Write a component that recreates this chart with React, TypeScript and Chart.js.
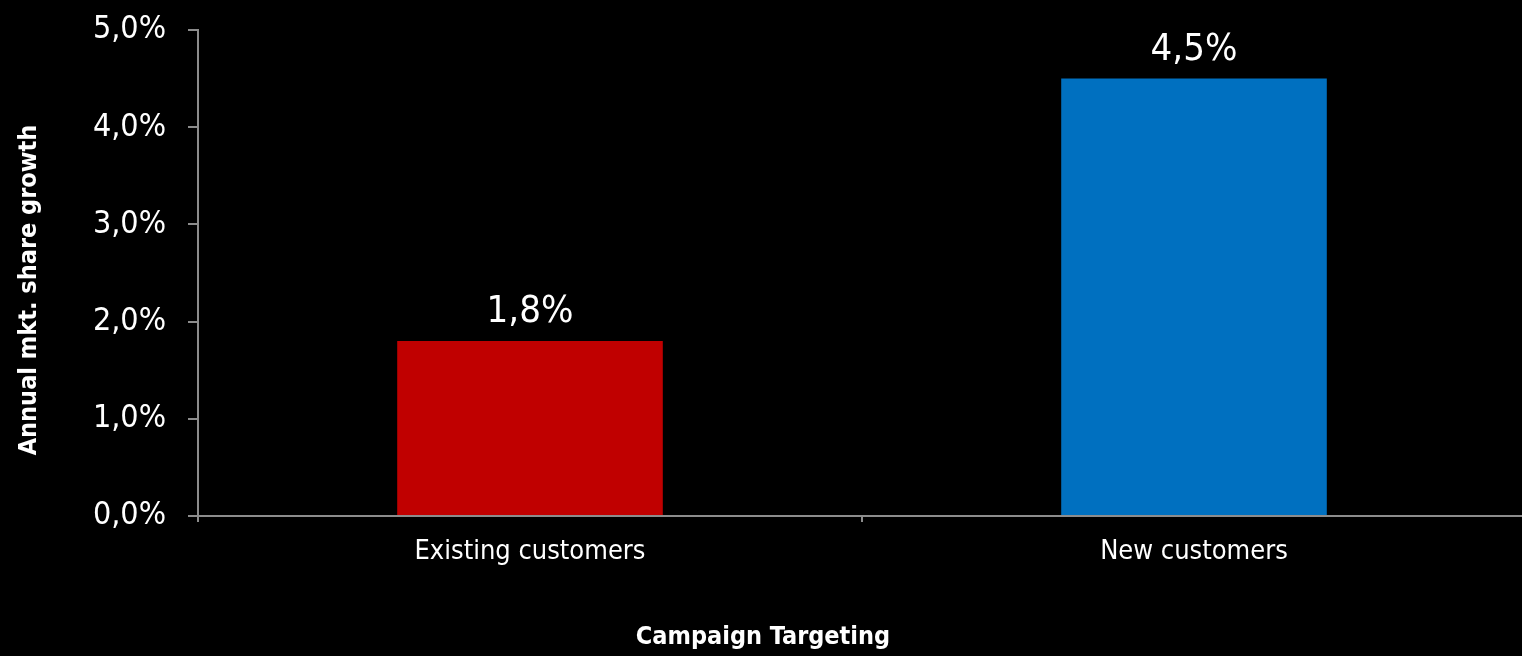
import React, { useEffect, useRef } from "react";
import { Chart, registerables } from "chart.js";

Chart.register(...registerables);

const categories = ["Existing customers", "New customers"];
const growthValues = [1.8, 4.5];
const barColors = ["#C00000", "#0070C0"];
const yTickLabels = ["0,0%", "1,0%", "2,0%", "3,0%", "4,0%", "5,0%"];
const xTitle = "Campaign Targeting";
const yTitle = "Annual mkt. share growth";

const FONT = "'Liberation Sans Narrow', 'DejaVu Sans Condensed', 'Arial Narrow', sans-serif";
const AXIS_COLOR = "#8c8c8c";

const fmt = (v: number) => v.toFixed(1).replace(".", ",") + "%";

const labelsPlugin = {
  id: "customLabels",
  afterDatasetsDraw(chart: any) {
    const ctx = chart.ctx;
    const meta = chart.getDatasetMeta(0);
    ctx.save();
    ctx.fillStyle = "#ffffff";
    ctx.font = `38px ${FONT}`;
    ctx.textAlign = "center";
    ctx.textBaseline = "alphabetic";
    meta.data.forEach((bar: any, i: number) => {
      ctx.fillText(fmt(growthValues[i]), bar.x, bar.y - 19);
    });
    ctx.restore();
  },
  afterDraw(chart: any) {
    const ctx = chart.ctx;
    ctx.save();
    ctx.fillStyle = "#ffffff";
    ctx.font = `bold 25px ${FONT}`;
    ctx.textAlign = "center";
    ctx.textBaseline = "middle";
    ctx.fillText(xTitle, 763, 637);
    ctx.translate(29, 290);
    ctx.rotate(-Math.PI / 2);
    ctx.fillText(yTitle, 0, 0);
    ctx.restore();
  },
};

export default function App() {
  const ref = useRef<HTMLCanvasElement | null>(null);
  useEffect(() => {
    if (!ref.current) return;
    const chart = new Chart(ref.current, {
      type: "bar",
      data: {
        labels: categories,
        datasets: [
          {
            data: growthValues,
            backgroundColor: barColors,
            borderWidth: 0,
            categoryPercentage: 1,
            barPercentage: 0.4,
          },
        ],
      },
      options: {
        responsive: false,
        animation: false,
        devicePixelRatio: 1,
        layout: { padding: { top: 30, right: 4, left: 0, bottom: 0 } },
        plugins: { legend: { display: false }, tooltip: { enabled: false } },
        scales: {
          x: {
            afterFit: (s: any) => {
              s.height = 140;
              s.paddingLeft = 0;
              s.paddingRight = 0;
            },
            grid: {
              display: true,
              drawOnChartArea: false,
              drawTicks: true,
              tickLength: 6,
              color: AXIS_COLOR,
              lineWidth: 2,
              offset: true,
            },
            border: { display: true, color: AXIS_COLOR, width: 2 },
            ticks: {
              color: "#ffffff",
              font: { family: FONT, size: 27 },
              padding: 14,
            },
          },
          y: {
            min: 0,
            max: 5,
            afterFit: (s: any) => {
              s.width = 198;
              s.paddingTop = 0;
              s.paddingBottom = 0;
            },
            grid: {
              display: true,
              drawOnChartArea: false,
              drawTicks: true,
              tickLength: 10,
              color: AXIS_COLOR,
              lineWidth: 2,
            },
            border: { display: true, color: AXIS_COLOR, width: 2 },
            ticks: {
              stepSize: 1,
              color: "#ffffff",
              font: { family: FONT, size: 32 },
              padding: 22,
              callback: (_v: any, i: number) => yTickLabels[i],
            },
          },
        },
      },
      plugins: [labelsPlugin],
    });
    return () => chart.destroy();
  }, []);

  return (
    <div
      style={{
        position: "fixed",
        left: 0,
        top: 0,
        width: 1522,
        height: 656,
        overflow: "hidden",
        background: "#000000",
      }}
    >
      <canvas ref={ref} width={1530} height={656} style={{ display: "block" }} />
    </div>
  );
}
